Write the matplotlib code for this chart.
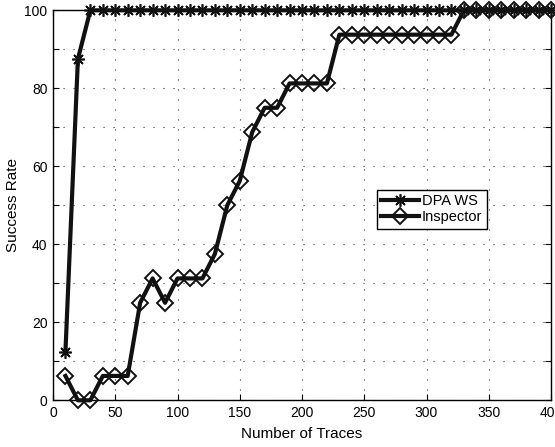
import matplotlib
matplotlib.use("Agg")
import matplotlib.pyplot as plt
import numpy as np

plt.rcParams['font.family'] = ['Liberation Sans', 'DejaVu Sans']

traces = list(range(10, 410, 10))
dpa_ws = [12.5, 87.5] + [100] * 38
inspector = [6.25, 0, 0, 6.25, 6.25, 6.25, 25, 31.25, 25, 31.25,
             31.25, 31.25, 37.5, 50, 56.25, 68.75, 75, 75, 81.25, 81.25,
             81.25, 81.25, 93.75, 93.75, 93.75, 93.75, 93.75, 93.75, 93.75, 93.75,
             93.75, 93.75, 100, 100, 100, 100, 100, 100, 100, 100]

fig = plt.figure(figsize=(5.55, 4.47), dpi=100)
ax = fig.add_axes([53/555, 1 - 400.3/447, 498/555, 390/447])

col = '#111111'
ax.plot(traces, dpa_ws, color=col, lw=3.0, marker=(8, 2, 0), ms=9, mew=1.2,
        label='DPA WS', clip_on=False, zorder=3)
ax.plot(traces, inspector, color=col, lw=3.0, marker='D', ms=8.5, mew=1.4,
        mfc='none', mec=col, label='Inspector', clip_on=False, zorder=3)

ax.set_xlim(0, 400)
ax.set_ylim(0, 100)
ax.set_xticks(np.arange(0, 401, 50))
ax.set_yticks(np.arange(0, 101, 10))
ax.set_yticklabels([str(v) if v % 20 == 0 else '' for v in range(0, 101, 10)])
ax.tick_params(direction='in', length=4, width=0.8, labelsize=10, colors='black',
               right=True, top=True, pad=4)
ax.grid(True, linestyle=(0, (1, 8)), color='#333333', linewidth=0.8)
for s in ax.spines.values():
    s.set_linewidth(1.0)
    s.set_color('black')

ax.set_xlabel('Number of Traces', fontsize=11, labelpad=5)
ax.set_ylabel('Success Rate', fontsize=11, labelpad=3)

leg = ax.legend(loc='upper left', bbox_to_anchor=(0.650, 0.540), fontsize=10.5,
                frameon=True, fancybox=False, edgecolor='black', framealpha=1,
                handlelength=2.6, borderpad=0.3, labelspacing=0.15,
                handletextpad=0.2, borderaxespad=0)
leg.get_frame().set_linewidth(1.0)

fig.savefig('out.png', dpi=100)
